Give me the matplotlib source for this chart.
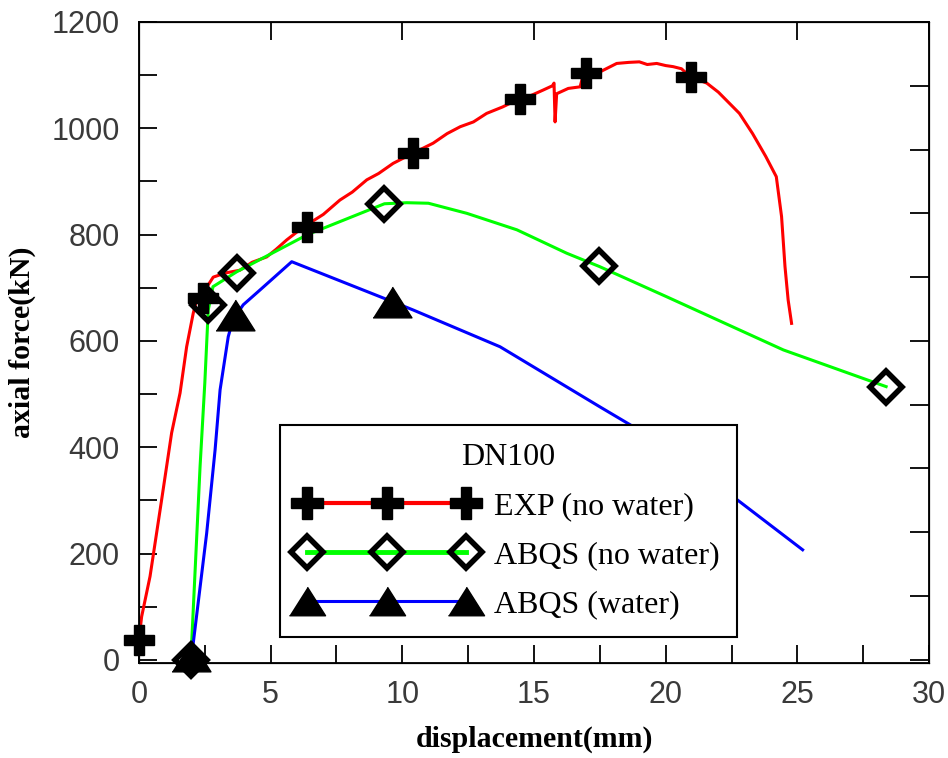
import numpy as np
import matplotlib
matplotlib.use('Agg')
import matplotlib.pyplot as plt
from matplotlib.lines import Line2D
from matplotlib.ticker import MultipleLocator

# Datos
exp_x = [0, 0.1, 0.42, 0.86, 1.24, 1.56, 1.81, 2.06, 2.19, 2.43, 2.82, 3.3, 3.83, 4.3,
         4.85, 5.2, 5.61, 6.0, 6.49, 7.0, 7.63, 8.1, 8.65, 9.1, 9.65, 10.4, 11.17, 11.7,
         12.2, 12.7, 13.2, 13.8, 14.47, 14.9, 15.35, 15.7, 15.76, 15.8, 15.86, 16.3,
         16.75, 16.85, 17.0, 17.5, 18.14, 18.6, 19.0, 19.3, 19.66, 20.0, 20.28, 20.6,
         20.93, 21.56, 22.0, 22.3, 22.8, 23.3, 23.8, 24.2, 24.4, 24.53, 24.65, 24.78]
exp_y = [37, 81, 157, 301, 427, 502, 589, 652, 677, 690, 720, 728, 733, 748,
         758, 772, 790, 805, 822, 838, 865, 880, 903, 915, 934, 953, 972, 990,
         1003, 1012, 1028, 1040, 1056, 1062, 1072, 1080, 1085, 1012, 1065, 1075,
         1078, 1097, 1106, 1106, 1122, 1124, 1125, 1120, 1122, 1118, 1116, 1112,
         1097, 1085, 1068, 1053, 1028, 990, 947, 909, 834, 740, 677, 633]
exp_mx = [0, 2.43, 6.37, 10.4, 14.47, 16.98, 20.95]
exp_my = [37, 680, 815, 953, 1056, 1104, 1097]

dry_x = [1.97, 2.0, 2.32, 2.5, 2.63, 2.81, 3.71, 6.4, 9.32, 10.17, 10.99, 12.45,
         14.35, 16.24, 17.48, 20.04, 24.47, 28.37]
dry_y = [0, 31, 364, 521, 658, 702, 730, 800, 858, 860, 859, 840,
         809, 765, 740, 683, 583, 514]
dry_mx = [1.97, 2.62, 3.71, 9.32, 17.48, 28.37]
dry_my = [0, 668, 728, 858, 740, 514]

wet_x = [1.97, 2.06, 2.57, 2.89, 3.08, 3.39, 3.57, 3.96, 4.6, 5.8, 9.62, 10.42,
         13.71, 17.5, 18.76, 22.56, 25.2]
wet_y = [0, 31, 238, 395, 508, 608, 640, 668, 696, 749, 674, 658,
         589, 476, 439, 307, 207]
wet_mx = [1.97, 3.65, 9.62]
wet_my = [8, 648, 674]

labels = ['EXP (no water)', 'ABQS (no water)', 'ABQS (water)']

serif = 'Liberation Serif'
sans = 'Liberation Sans'
tri = [(-1, -0.79), (1, -0.79), (0, 0.79)]

fig = plt.figure(figsize=(9.48, 7.58), dpi=100)
ax = fig.add_axes([0.1466, 0.1253, 0.8334, 0.8457])

ax.plot(exp_x, exp_y, color='#ff0000', lw=2.2, zorder=2)
ax.plot(dry_x, dry_y, color='#00ff00', lw=2.2, zorder=2)
ax.plot(wet_x, wet_y, color='#0000ff', lw=2.2, zorder=2)

ax.plot(exp_mx, exp_my, ls='none', marker='P', ms=22, color='black', zorder=4, clip_on=False)
ax.plot(dry_mx, dry_my, ls='none', marker='D', ms=16, mfc='none', mec='black', mew=4,
        zorder=4, clip_on=False)
ax.plot(wet_mx, wet_my, ls='none', marker=tri, ms=28, color='black', zorder=4, clip_on=False)

ax.set_xlim(0, 30)
ax.set_ylim(-6, 1200)
ax.xaxis.set_major_locator(MultipleLocator(5))
ax.xaxis.set_minor_locator(MultipleLocator(2.5))
ax.yaxis.set_major_locator(MultipleLocator(200))
ax.yaxis.set_minor_locator(MultipleLocator(100))
ax.tick_params(which='both', direction='in', length=13, width=1.3,
               labelsize=22, labelcolor='#3a3a3a')
ax.tick_params(axis='x', pad=12)
ax.tick_params(axis='y', pad=14)
for lab in ax.get_xticklabels() + ax.get_yticklabels():
    lab.set_family(sans)
for s in ax.spines.values():
    s.set_linewidth(1.3)

# ejes secundarios (solo marcas)
ax_r = ax.twinx()
ax_r.set_ylim(ax.get_ylim())
ax_r.set_yticks(np.arange(0, 1201, 120))
ax_r.tick_params(direction='in', length=14, width=1.3, labelright=False)
ax_t = ax.twiny()
ax_t.set_xlim(ax.get_xlim())
ax_t.set_xticks(np.arange(0, 31, 5))
ax_t.tick_params(direction='in', length=13, width=1.3, labeltop=False)

ax.set_xlabel('displacement(mm)', family=serif, weight='bold', fontsize=21.5)
ax.set_ylabel('axial force(kN)', family=serif, weight='bold', fontsize=21.5)
ax.xaxis.set_label_coords(0.5, -0.097)
ax.yaxis.set_label_coords(-0.13, 0.5)

handles = [
    Line2D([], [], color='#ff0000', lw=3, marker='P', ms=23, mfc='black', mec='black'),
    Line2D([], [], color='#00ff00', lw=3.5, marker='D', ms=16, mfc='none', mec='black', mew=4),
    Line2D([], [], color='#0000ff', lw=2.2, marker=tri, ms=26, mfc='black', mec='black'),
]
leg = ax.legend(handles, labels, loc='lower left', bbox_to_anchor=(0.178, 0.0406),
                borderaxespad=0, numpoints=3, handlelength=5.6, handletextpad=0.55,
                labelspacing=0.62, borderpad=0.55, title='DN100',
                prop={'family': serif, 'size': 23}, fancybox=False, framealpha=1)
leg.get_title().set_family(serif)
leg.get_title().set_fontsize(23)
leg.get_frame().set_edgecolor('black')
leg.get_frame().set_linewidth(1.5)
leg.set_zorder(5)

plt.savefig('out.png', dpi=100, facecolor='white')
plt.close()
